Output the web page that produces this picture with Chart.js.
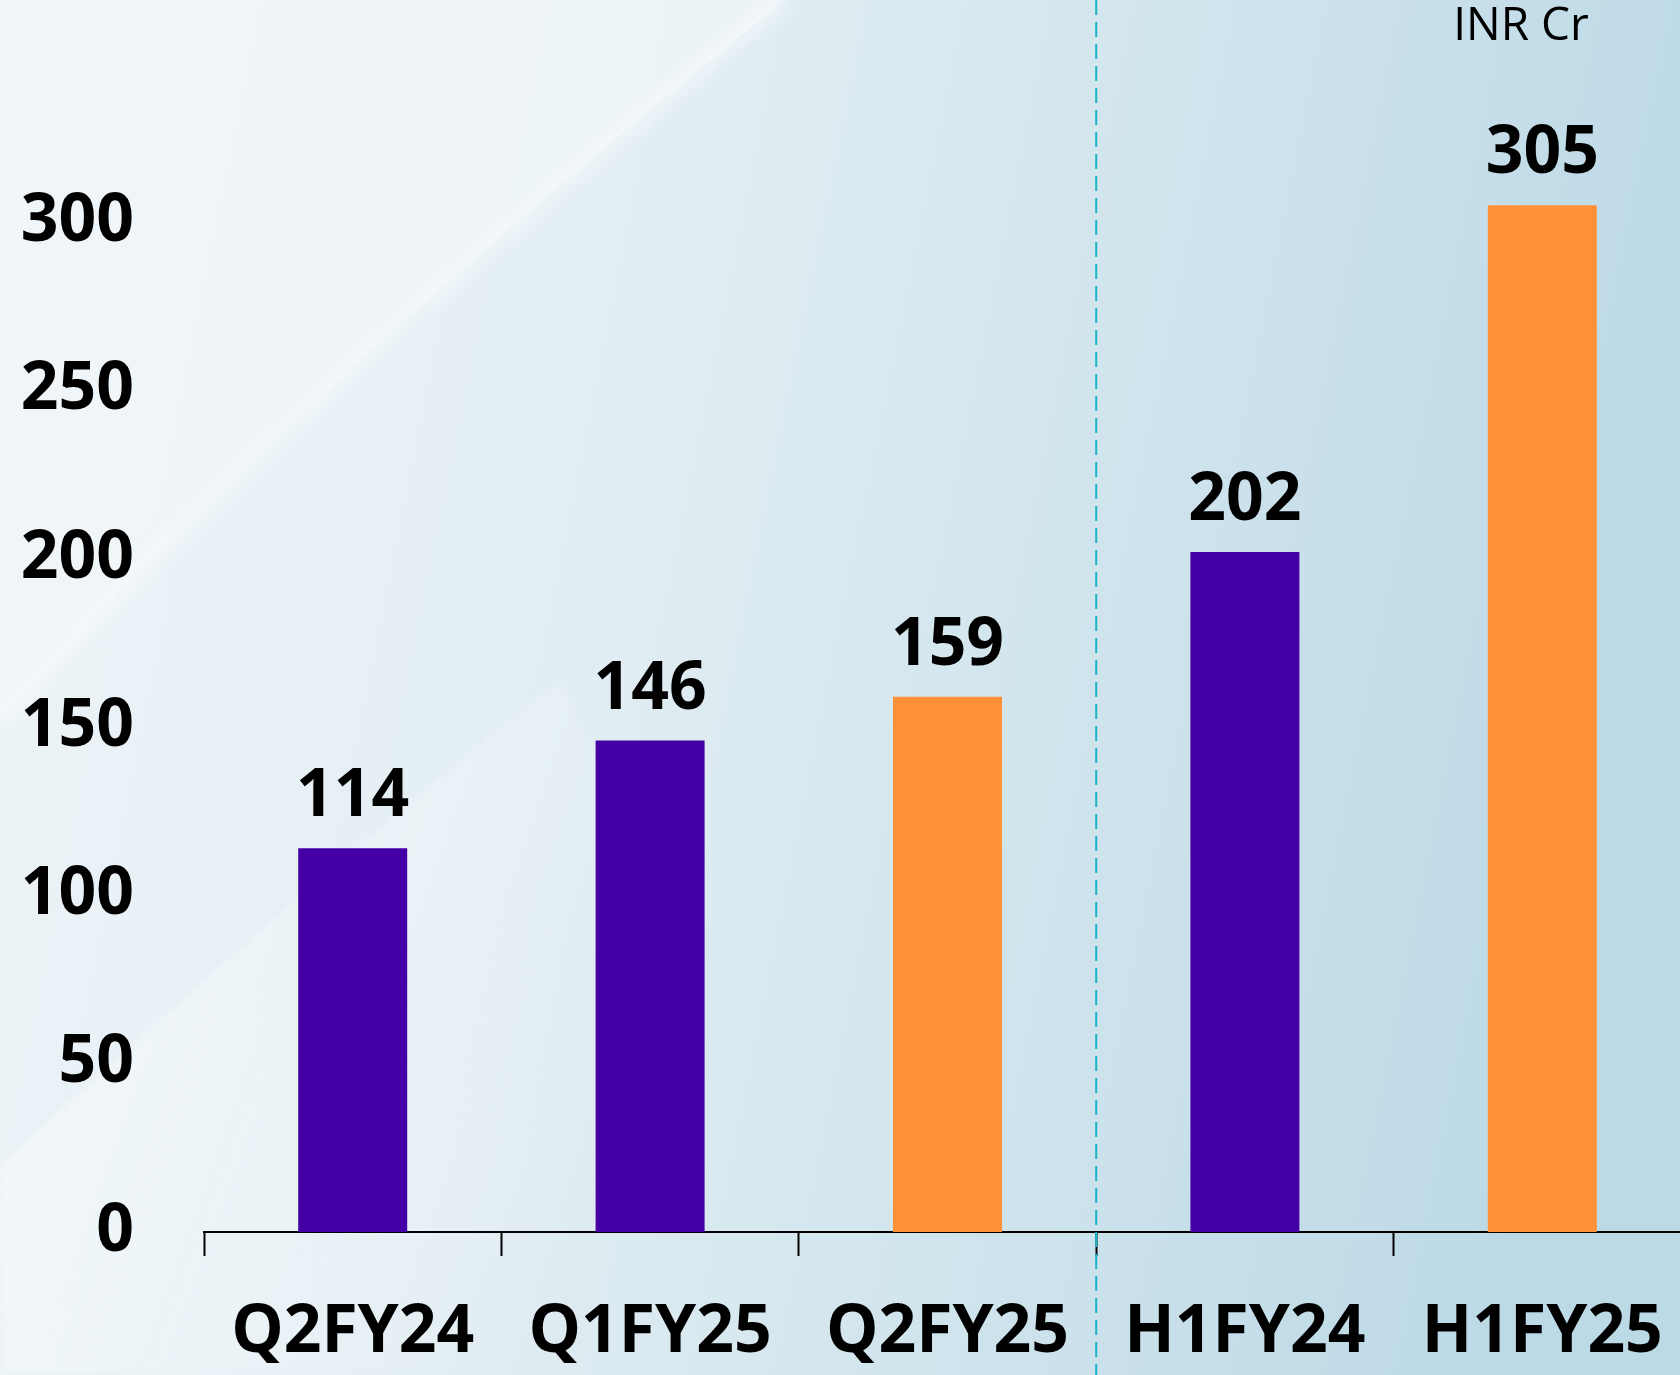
<!DOCTYPE html>
<html>
<head>
<meta charset="utf-8">
<script src="https://cdn.jsdelivr.net/npm/chart.js@4.4.1/dist/chart.umd.min.js"></script>
<style>
  html, body { margin: 0; padding: 0; overflow: hidden; width: 1680px; height: 1375px; }
  #wrap { position: absolute; left: 0; top: 0; width: 1700px; height: 1375px; }
</style>
</head>
<body>
<div id="wrap"><canvas id="revenue_chart"></canvas></div>
<script>
// data
const periods = ["Q2FY24", "Q1FY25", "Q2FY25", "H1FY24", "H1FY25"];
const values = [114, 146, 159, 202, 305];
const barColors = ["#4500a5", "#4500a5", "#ff9238", "#4500a5", "#ff9238"];
const yTicks = [0, 50, 100, 150, 200, 250, 300];
const unitLabel = "INR Cr";

const FONT = "'Open Sans', 'Noto Sans', sans-serif";

// background with the light swoosh
const backdrop = {
  id: "backdrop",
  beforeDraw(chart) {
    const c = chart.ctx;
    const w = chart.width, h = chart.height;
    c.save();
    let g = c.createLinearGradient(0, 0, w, h * 0.25);
    g.addColorStop(0, "#eef4f8");
    g.addColorStop(0.4, "#e2eef3");
    g.addColorStop(1, "#bcd9e6");
    c.fillStyle = g;
    c.fillRect(0, 0, w, h);

    // lighter area above the upper curve
    c.beginPath();
    c.moveTo(0, 0);
    c.lineTo(785, 0);
    c.bezierCurveTo(600, 150, 300, 390, 0, 720);
    c.closePath();
    c.fillStyle = "rgba(244,247,250,0.6)";
    c.fill();

    c.beginPath();
    c.moveTo(785, 0);
    c.bezierCurveTo(600, 150, 300, 390, 0, 720);
    c.strokeStyle = "rgba(250,252,253,0.55)";
    c.lineWidth = 18;
    c.filter = "blur(8px)";
    c.stroke();
    c.filter = "none";

    // faint lower swoosh, fading to the right
    c.beginPath();
    c.moveTo(0, 1375);
    c.lineTo(0, 1165);
    c.bezierCurveTo(180, 1000, 380, 820, 560, 680);
    c.lineTo(900, 1375);
    c.closePath();
    let g3 = c.createLinearGradient(0, 1165, 560, 1375);
    g3.addColorStop(0, "rgba(246,249,251,0.6)");
    g3.addColorStop(1, "rgba(246,249,251,0)");
    c.fillStyle = g3;
    c.filter = "blur(3px)";
    c.fill();
    c.filter = "none";
    c.restore();
  },
};

// value labels, unit text and the dashed divider
const overlay = {
  id: "overlay",
  afterDraw(chart) {
    const c = chart.ctx;
    const meta = chart.getDatasetMeta(0);
    c.save();
    c.fillStyle = "#000";
    c.textAlign = "center";
    c.textBaseline = "alphabetic";
    c.font = "bold 66px " + FONT;
    meta.data.forEach(function (bar, i) {
      c.fillText(String(values[i]), bar.x, bar.y - 32);
    });

    c.font = "46px " + FONT;
    c.fillText(unitLabel, 1521, 40);

    const x = chart.scales.x;
    const split = (x.getPixelForValue(2) + x.getPixelForValue(3)) / 2;
    c.beginPath();
    c.setLineDash([15, 7]);
    c.moveTo(split, 0);
    c.lineTo(split, chart.height);
    c.strokeStyle = "#1ab4c8";
    c.lineWidth = 2;
    c.stroke();
    c.restore();
  },
};

function init() {
  const ctx = document.getElementById("revenue_chart");
  new Chart(ctx, {
    type: "bar",
    data: {
      labels: periods,
      datasets: [{
        data: values,
        backgroundColor: barColors,
        barPercentage: 0.3665,
        categoryPercentage: 1,
      }],
    },
    options: {
      responsive: false,
      animation: false,
      devicePixelRatio: 1,
      layout: { padding: { left: 0, right: 9, top: 0, bottom: 0 } },
      plugins: { legend: { display: false }, tooltip: { enabled: false } },
      scales: {
        x: {
          grid: {
            offset: true,
            drawOnChartArea: false,
            drawTicks: true,
            tickLength: 24,
            tickWidth: 2,
            tickColor: "#000",
          },
          border: { display: true, color: "#000", width: 2 },
          ticks: {
            color: "#000",
            padding: 38,
            font: { family: FONT, size: 66, weight: "bold" },
          },
          afterFit(scale) {
            scale.height = 143;
            scale.paddingLeft = 0;
            scale.paddingRight = 0;
          },
        },
        y: {
          min: 0,
          max: 366,
          bounds: "data",
          grid: { display: false, drawTicks: false },
          border: { display: false },
          afterBuildTicks(scale) {
            scale.ticks = yTicks.map(function (v) { return { value: v }; });
          },
          ticks: {
            color: "#000",
            padding: 70,
            font: { family: FONT, size: 66, weight: "bold" },
          },
          afterFit(scale) {
            scale.width = 204;
            scale.paddingTop = 0;
            scale.paddingBottom = 0;
          },
        },
      },
    },
    plugins: [backdrop, overlay],
  });
}

const cv = document.getElementById("revenue_chart");
cv.width = 1700;
cv.height = 1375;
cv.style.width = "1700px";
cv.style.height = "1375px";
init();
</script>
</body>
</html>
